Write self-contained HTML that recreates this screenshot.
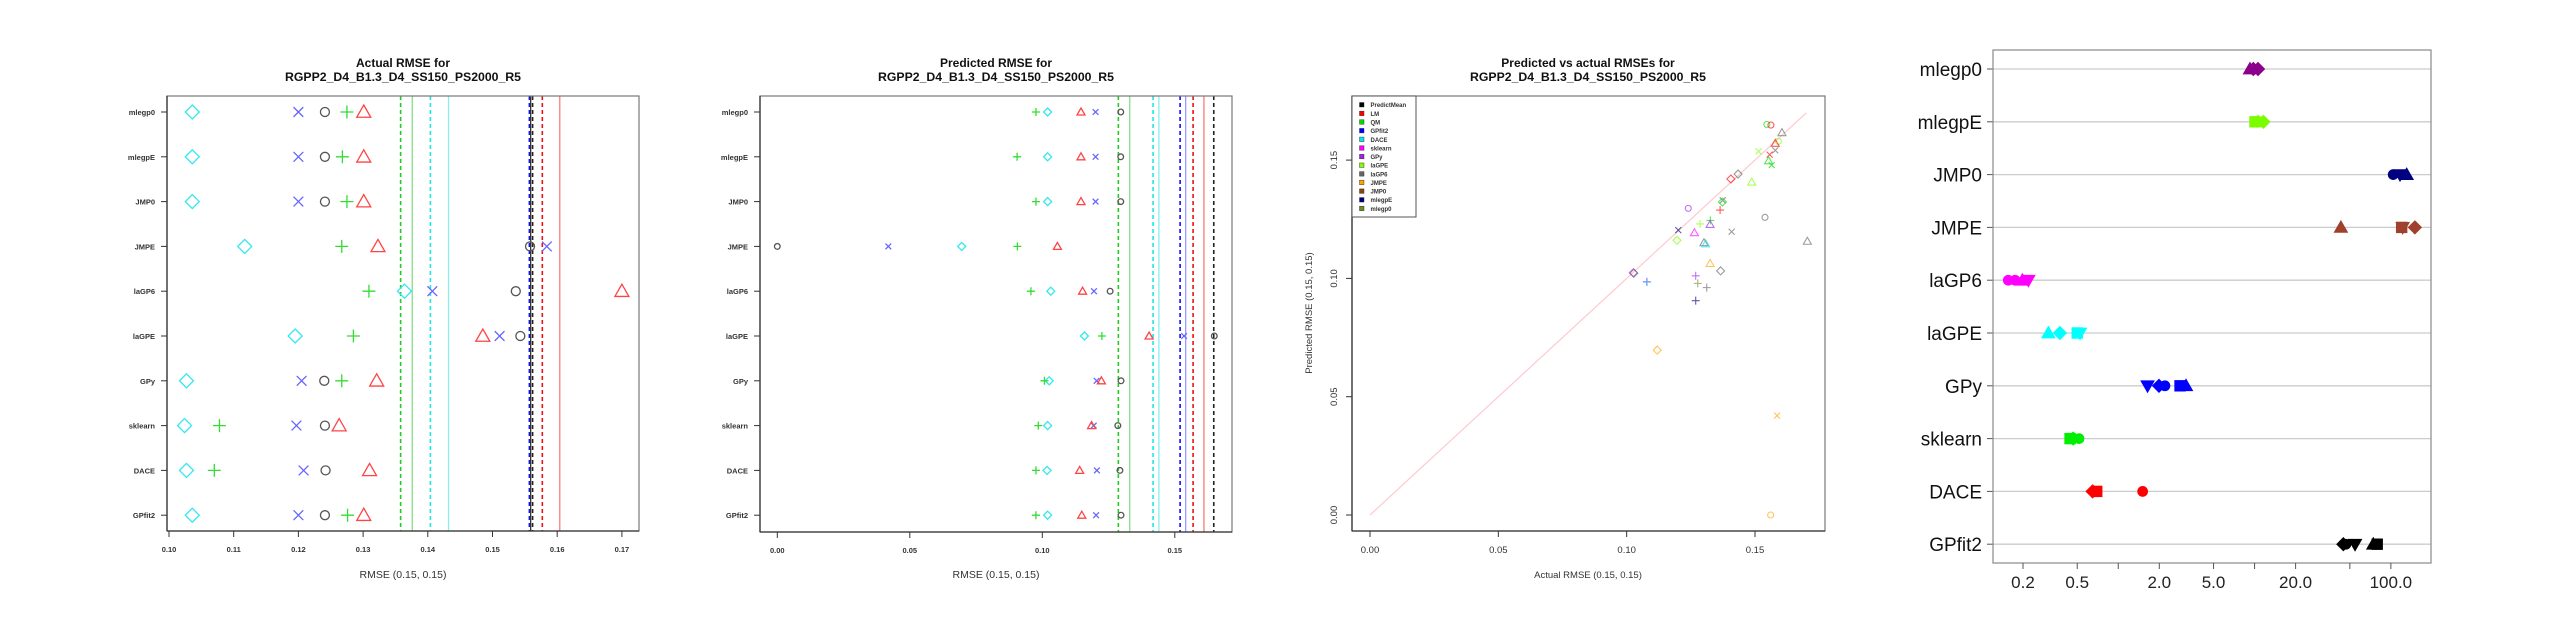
<!DOCTYPE html>
<html><head><meta charset="utf-8"><title>RMSE charts</title>
<style>
html,body{margin:0;padding:0;background:#fff;}
svg{display:block;font-family:"Liberation Sans",sans-serif;}
</style></head>
<body>
<svg id="root" width="2560" height="640" viewBox="0 0 2560 640" xmlns="http://www.w3.org/2000/svg"></svg>
<script>
// ---------- data ----------
const rowNames = ["mlegp0","mlegpE","JMP0","JMPE","laGP6","laGPE","GPy","sklearn","DACE","GPfit2"];
// Panel 1: Actual RMSE per model (by marker series)
const act_dace  = [0.1036,0.1036,0.1036,0.1117,0.1364,0.1195,0.1027,0.1024,0.1027,0.1036];
const act_gpfit = [0.1200,0.1200,0.1200,0.1584,0.1407,0.1511,0.1205,0.1197,0.1208,0.1200];
const act_mean  = [0.1241,0.1241,0.1241,0.1558,0.1536,0.1543,0.1240,0.1241,0.1242,0.1241];
const act_qm    = [0.1275,0.1268,0.1275,0.1267,0.1309,0.1285,0.1267,0.1078,0.1070,0.1276];
const act_lm    = [0.1301,0.1301,0.1301,0.1323,0.1700,0.1485,0.1321,0.1263,0.1310,0.1301];
const act_ticks = [0.10,0.11,0.12,0.13,0.14,0.15,0.16,0.17];
const act_vlines = [0.1358,0.1376,0.1404,0.1432,0.1557,0.1559,0.1562,0.1577,0.1604];
const act_vcolor = ["green","green","cyan","cyan","blue","black","black","red","red"];
const act_vdash  = [1,0,1,0,1,0,1,1,0];
// Panel 2: Predicted RMSE
const pred_dace  = [0.1020,0.1020,0.1020,0.0696,0.1032,0.1159,0.1026,0.1020,0.1018,0.1020];
const pred_gpfit = [0.1201,0.1201,0.1201,0.0419,0.1195,0.1535,0.1205,0.1194,0.1206,0.1203];
const pred_mean  = [0.1296,0.1296,0.1296,0.0000,0.1256,0.1649,0.1297,0.1285,0.1293,0.1297];
const pred_qm    = [0.0976,0.0905,0.0976,0.0906,0.0957,0.1225,0.1008,0.0985,0.0976,0.0976];
const pred_lm    = [0.1146,0.1146,0.1146,0.1057,0.1152,0.1403,0.1223,0.1186,0.1141,0.1149];
const pred_ticks = [0.00,0.05,0.10,0.15];
const pred_vlines = [0.1287,0.1330,0.1418,0.1440,0.1520,0.1541,0.1569,0.1610,0.1647];
const pred_vcolor = ["green","green","cyan","cyan","blue","blue","red","red","black"];
const pred_vdash  = [1,0,1,0,1,0,1,0,1];
// Panel 3: scatter predicted vs actual
const legendNames = ["PredictMean","LM","QM","GPfit2","DACE","sklearn","GPy","laGPE","laGP6","JMPE","JMP0","mlegpE","mlegp0"];
const sc_actual = [0.1546,0.1562,0.1605,0.1591,0.1579,0.1579,0.1557,0.1514,0.1553,0.1565,0.1487,0.1406,0.1434,0.1374,0.1373,0.1364,0.1539,0.1326,0.1325,0.1286,0.1409,0.1301,0.1308,0.1704,0.1325,0.1366,0.1240,0.1201,0.1264,0.1196,0.1026,0.1028,0.1078,0.1080,0.1269,0.1277,0.1312,0.1269,0.1119,0.1586,0.1561];
const sc_pred   = [0.1651,0.1648,0.1616,0.1579,0.1571,0.1541,0.1523,0.1537,0.1497,0.1479,0.1407,0.1420,0.1441,0.1330,0.1323,0.1289,0.1258,0.1245,0.1228,0.1230,0.1197,0.1151,0.1146,0.1157,0.1063,0.1032,0.1296,0.1204,0.1193,0.1161,0.1024,0.1022,0.0986,0.0984,0.1011,0.0979,0.0961,0.0906,0.0697,0.0420,0.0000];
const sc_shape  = ["o","o","t","o","t","x","x","x","t","x","t","d","d","x","d","p","o","p","t","p","x","t","t","t","t","d","o","x","t","d","d","d","p","p","p","p","p","p","d","x","o"];
const sc_model  = [2,1,8,7,1,8,1,7,2,2,7,1,8,8,2,1,8,2,6,7,8,8,4,8,9,8,6,11,5,7,6,8,5,4,6,12,8,11,9,9,9];
const diagMax = 0.17;
// Panel 4: timing (log scale)
const tm_vals = [
  [9.25,9.79,10.6],
  [10.07,10.6,11.6],
  [104,116.7,130.6],
  [43,120,122,150],
  [0.156,0.175,0.198,0.219],
  [0.307,0.373,0.5,0.524],
  [1.64,1.99,2.2,2.84,3.14],
  [0.443,0.467,0.515],
  [0.648,0.695,1.51],
  [44.8,46.8,54.6,74.3,79.4]
];
const tm_shapes = [
  ["t","d","d"],["s","t","d"],["o","v","t"],["t","s","v","d"],["o","o","t","v"],
  ["t","d","s","v"],["v","d","o","s","t"],["s","d","o"],["d","s","o"],["d","o","v","t","s"]
];
const tm_colors = ["#8b008b","#7cfc00","#000080","#a0412d","#ff00ff","#00ffff","#0000ff","#00ee00","#ff0000","#000000"];
const tm_ticks = [0.2,0.5,2.0,5.0,20.0,100.0];
const tm_minor = [1,10,50];

// ---------- helpers ----------
const NS = "http://www.w3.org/2000/svg";
const root = document.getElementById("root");
function mk(tag, attrs, parent){
  const e = document.createElementNS(NS, tag);
  for (const k in attrs) e.setAttribute(k, attrs[k]);
  (parent||root).appendChild(e);
  return e;
}
function txt(s, x, y, size, opts, parent){
  opts = opts||{};
  const t = mk("text", {x:x, y:y, "font-size":size, fill:opts.fill||"#222", "text-anchor":opts.anchor||"middle"}, parent);
  if (opts.bold) t.setAttribute("font-weight","bold");
  if (opts.len) { t.setAttribute("textLength", opts.len); t.setAttribute("lengthAdjust","spacingAndGlyphs"); }
  if (opts.rot) t.setAttribute("transform","rotate(-90 "+x+" "+y+")");
  t.textContent = s;
  return t;
}
function marker(g, shape, cx, cy, r, color, sw, fill){
  let e;
  const f = fill ? color : "none";
  if (shape==="o") e = mk("circle",{cx:cx,cy:cy,r:r*0.75,fill:f,stroke:color,"stroke-width":sw},g);
  else if (shape==="d") e = mk("polygon",{points:(cx)+","+(cy-r)+" "+(cx+r)+","+cy+" "+cx+","+(cy+r)+" "+(cx-r)+","+cy,fill:f,stroke:color,"stroke-width":sw},g);
  else if (shape==="t") e = mk("polygon",{points:cx+","+(cy-r)+" "+(cx+r)+","+(cy+r*0.75)+" "+(cx-r)+","+(cy+r*0.75),fill:f,stroke:color,"stroke-width":sw},g);
  else if (shape==="v") e = mk("polygon",{points:cx+","+(cy+r)+" "+(cx+r)+","+(cy-r*0.75)+" "+(cx-r)+","+(cy-r*0.75),fill:f,stroke:color,"stroke-width":sw},g);
  else if (shape==="s") e = mk("rect",{x:cx-r*0.8,y:cy-r*0.8,width:r*1.6,height:r*1.6,fill:f,stroke:color,"stroke-width":sw},g);
  else if (shape==="p") e = mk("path",{d:"M"+(cx-r)+" "+cy+"H"+(cx+r)+"M"+cx+" "+(cy-r)+"V"+(cy+r),fill:"none",stroke:color,"stroke-width":sw},g);
  else e = mk("path",{d:"M"+(cx-r*0.75)+" "+(cy-r*0.75)+"L"+(cx+r*0.75)+" "+(cy+r*0.75)+"M"+(cx-r*0.75)+" "+(cy+r*0.75)+"L"+(cx+r*0.75)+" "+(cy-r*0.75),fill:"none",stroke:color,"stroke-width":sw},g);
  return e;
}
const lineCol = {green:"#22cc22",cyan:"#22e5e5",blue:"#1111ee",black:"#222222",red:"#ee1111"};
const lineColSolid = {green:"#88dd88",cyan:"#88eeee",blue:"#9999ff",black:"#333333",red:"#ff7777"};

// ---------- dot-chart panels (1 & 2) ----------
function dotPanel(cfg){
  const g = mk("g",{});
  
  
  const X = v => cfg.x0 + (v - cfg.v0) * cfg.k;
  const Y = i => cfg.rowTop + i * cfg.rowStep;
  // vertical reference lines
  cfg.vlines.forEach((v,i)=>{
    const dashed = cfg.vdash[i]===1;
    const l = mk("line",{x1:X(v),x2:X(v),y1:cfg.top,y2:cfg.bottom,stroke:dashed?lineCol[cfg.vcolor[i]]:lineColSolid[cfg.vcolor[i]],"stroke-width":dashed?1.6:1.3},g);
    if (dashed) l.setAttribute("stroke-dasharray","4,3");
    
    
  });
  // box
  const box = mk("rect",{x:cfg.left,y:cfg.top,width:cfg.right-cfg.left,height:cfg.bottom-cfg.top,fill:"none",stroke:"#777","stroke-width":1.2},g);
  
  
  mk("line",{x1:cfg.left,x2:cfg.left,y1:cfg.top,y2:cfg.bottom,stroke:"#333","stroke-width":1.3},g);
  mk("line",{x1:cfg.left,x2:cfg.right,y1:cfg.bottom,y2:cfg.bottom,stroke:"#333","stroke-width":1.3},g);
  // rows
  rowNames.forEach((n,i)=>{
    mk("line",{x1:cfg.left-6,x2:cfg.left,y1:Y(i),y2:Y(i),stroke:"#333","stroke-width":1},g);
    const t = txt(n, cfg.left-12, Y(i)+3, 7.5, {anchor:"end", bold:true, fill:"#333"}, g);
    
    
  });
  // x ticks
  cfg.ticks.forEach(v=>{
    mk("line",{x1:X(v),x2:X(v),y1:cfg.bottom,y2:cfg.bottom+6,stroke:"#333","stroke-width":1},g);
    const t = txt(v.toFixed(2), X(v), cfg.bottom+21, 7.5, {bold:true, fill:"#333"}, g);
    
    
  });
  // series
  const series = [
    [cfg.dace,"d","#33e8f0","dace"],[cfg.gpfit,"x","#6666ff","gpfit2"],[cfg.mean,"o","#555555","predictmean"],
    [cfg.qm,"p","#33dd33","qm"],[cfg.lm,"t","#ff4444","lm"]
  ];
  series.forEach(s=>{
    s[0].forEach((v,i)=>{
      if (v===null) return;
      const m = marker(g, s[1], X(v), Y(i), cfg.msize[s[1]], s[2], 1.3, false);
      
      
    });
  });
  const t1 = txt(cfg.title1, cfg.tx, 67, 12, {bold:true, fill:"#111"}, g);
  
  
  const t2 = txt("RGPP2_D4_B1.3_D4_SS150_PS2000_R5", cfg.tx, 81, 12, {bold:true, fill:"#111", len:236}, g);
  
  
  const xt = txt("RMSE (0.15, 0.15)", cfg.tx, 578, 10.5, {fill:"#333"}, g);
  
  
}

dotPanel({name:"actual-rmse-chart", x0:169, v0:0.10, k:6470, left:167, right:639, top:96, bottom:531,
  rowTop:112, rowStep:44.8, ticks:act_ticks, vlines:act_vlines, vcolor:act_vcolor, vdash:act_vdash,
  dace:act_dace, gpfit:act_gpfit, mean:act_mean, qm:act_qm, lm:act_lm,
  msize:{d:7,x:6.5,o:6,p:6.5,t:7}, title1:"Actual RMSE for", tx:403});
dotPanel({name:"predicted-rmse-chart", x0:777.3, v0:0, k:2650, left:760, right:1232, top:96, bottom:532,
  rowTop:112, rowStep:44.8, ticks:pred_ticks, vlines:pred_vlines, vcolor:pred_vcolor, vdash:pred_vdash,
  dace:pred_dace, gpfit:pred_gpfit, mean:pred_mean, qm:pred_qm, lm:pred_lm,
  msize:{d:4,x:3.8,o:3.8,p:4,t:4}, title1:"Predicted RMSE for", tx:996});

// ---------- panel 3: scatter ----------
(function(){
  const g = mk("g",{});
  
  
  const SX = v => 1370 + v*2566.7;
  const SY = v => 515 - v*2366;
  const L=1352, R=1825, T=96, B=531;
  const pal = ["#000000","#ff0000","#00dd00","#0000ff","#00e5ee","#ff00ff","#a020f0","#7fff00","#666666","#ffa500","#8b4513","#000080","#6b8e23"];
  const diag = mk("line",{x1:SX(0),y1:SY(0),x2:SX(diagMax),y2:SY(diagMax),stroke:"#ffc8d0","stroke-width":1.2},g);
  
  
  const box = mk("rect",{x:L,y:T,width:R-L,height:B-T,fill:"none",stroke:"#777","stroke-width":1.2},g);
  
  
  mk("line",{x1:L,x2:L,y1:T,y2:B,stroke:"#333","stroke-width":1.3},g);
  mk("line",{x1:L,x2:R,y1:B,y2:B,stroke:"#333","stroke-width":1.3},g);
  [0,0.05,0.10,0.15].forEach(v=>{
    mk("line",{x1:SX(v),x2:SX(v),y1:B,y2:B+6,stroke:"#333"},g);
    const t = txt(v.toFixed(2), SX(v), B+22, 9.5, {fill:"#333"}, g);
    
    
    mk("line",{x1:L-6,x2:L,y1:SY(v),y2:SY(v),stroke:"#333"},g);
    const u = txt(v.toFixed(2), L-15, SY(v), 9.5, {fill:"#333", rot:true}, g);
    
    
  });
  sc_actual.forEach((a,i)=>{
    const m = marker(g, sc_shape[i], SX(a), SY(sc_pred[i]), 4, pal[sc_model[i]], 1.1, false);
    m.setAttribute("opacity","0.65");
    
    
  });
  // legend
  const lg = mk("g",{},g);
  
  
  mk("rect",{x:L,y:T,width:64,height:121,fill:"#fff",stroke:"#555","stroke-width":1},lg);
  legendNames.forEach((n,i)=>{
    const y = 105 + i*8.64;
    const e = mk("g",{},lg);
    
    
    mk("rect",{x:1359.5,y:y-2.5,width:4.5,height:4.5,fill:pal[i],stroke:"#222","stroke-width":0.4},e);
    txt(n, 1370.5, y+2.2, 6, {anchor:"start", bold:true, fill:"#333"}, e);
  });
  const t1 = txt("Predicted vs actual RMSEs for", 1588, 67, 12, {bold:true, fill:"#111"}, g);
  
  
  const t2 = txt("RGPP2_D4_B1.3_D4_SS150_PS2000_R5", 1588, 81, 12, {bold:true, fill:"#111", len:236}, g);
  
  
  const xt = txt("Actual RMSE (0.15, 0.15)", 1588, 578, 9.5, {fill:"#333"}, g);
  
  
  const yt = txt("Predicted RMSE (0.15, 0.15)", 1312, 313, 9.5, {fill:"#333", rot:true}, g);
  
  
})();

// ---------- panel 4: timing dot plot (log x) ----------
(function(){
  const g = mk("g",{});
  
  
  const LX = v => 2023 + (Math.log10(v) - Math.log10(0.2)) * 136.3;
  const RY = i => 69 + i*52.8;
  const L=1993, R=2431, T=50, B=563;
  rowNames.forEach((n,i)=>{
    const gl = mk("line",{x1:L,x2:R,y1:RY(i),y2:RY(i),stroke:"#cccccc","stroke-width":1.3},g);
    
    
    mk("line",{x1:L-6,x2:L,y1:RY(i),y2:RY(i),stroke:"#555"},g);
    const t = txt(n, 1982, RY(i)+7, 19, {anchor:"end", fill:"#111"}, g);
    
    
  });
  const box = mk("rect",{x:L,y:T,width:R-L,height:B-T,fill:"none",stroke:"#888","stroke-width":1.2},g);
  
  
  tm_ticks.forEach(v=>{
    mk("line",{x1:LX(v),x2:LX(v),y1:B,y2:B+6,stroke:"#555"},g);
    const t = txt(v.toFixed(1), LX(v), B+25, 17, {fill:"#222"}, g);
    
    
  });
  tm_minor.forEach(v=>{
    mk("line",{x1:LX(v),x2:LX(v),y1:B,y2:B+6,stroke:"#555"},g);
  });
  tm_vals.forEach((arr,i)=>{
    arr.forEach((v,j)=>{
      const m = marker(g, tm_shapes[i][j], LX(v), RY(i), 6.5, tm_colors[i], 1, true);
      
      
    });
  });
})();
</script>
</body></html>
